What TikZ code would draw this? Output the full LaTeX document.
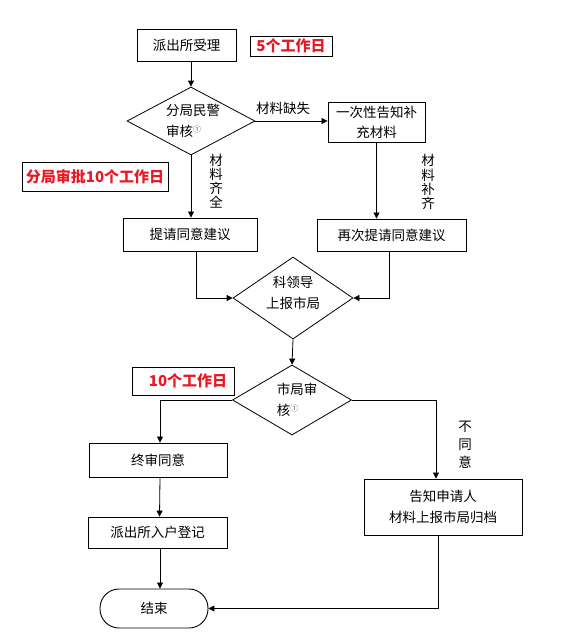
\documentclass[tikz,border=0pt]{standalone}
\usepackage{fontspec}
\setmainfont{Noto Sans CJK SC}
\usetikzlibrary{shapes.geometric,arrows.meta}
\definecolor{rd}{RGB}{232,24,36}
\newcommand{\circone}{\raisebox{4.5pt}{\fontsize{8}{8}\selectfont\color{black!65}①}}
\begin{document}
\begin{tikzpicture}[x=1pt,y=-1pt,
  font=\fontsize{13.5}{21}\selectfont,
  box/.style={draw, line width=0.9pt, inner sep=0pt, align=center},
  dia/.style={draw, diamond, line width=0.8pt, inner sep=0pt},
  redbox/.style={draw, line width=0.9pt, inner sep=0pt, text=rd, font=\fontsize{15}{18}\selectfont\bfseries},
  arr/.style={-{Triangle[length=6pt,width=6pt]}, line width=0.8pt},
  lab/.style={inner sep=0pt},
  vlab/.style={inner sep=0pt, align=center, font=\fontsize{13.5}{14.2}\selectfont}]
\useasboundingbox (0,0) rectangle (569,635);
% nodes
\node[box, minimum width=99, minimum height=32] (b1) at (186.5,45) {派出所受理};
\node[redbox, minimum width=82, minimum height=20] (r1) at (291,46) {5个工作日};
\node[dia, minimum width=128, minimum height=68] (d1) at (191,121) {};
\node[lab, align=left] (t1) at (193,121) {分局民警\\审核\circone};
\node[box, minimum width=97, minimum height=40, font=\fontsize{13.5}{20}\selectfont] (b2) at (376.5,122) {一次性告知补\\充材料};
\node[redbox, minimum width=146, minimum height=29] (r2) at (95,176.5) {分局审批10个工作日};
\node[box, minimum width=134, minimum height=33] (b3) at (190,234.5) {提请同意建议};
\node[box, minimum width=149, minimum height=32] (b4) at (391.5,235) {再次提请同意建议};
\node[dia, minimum width=120, minimum height=82] (d2) at (293,298) {};
\node[lab, align=center] (t2) at (293,293) {科领导\\上报市局};
\node[redbox, minimum width=102, minimum height=28] (r3) at (183,381) {\hspace*{10pt}10个工作日};
\node[dia, minimum width=119, minimum height=70] (d3) at (292,400) {};
\node[lab, align=left] (t3) at (297,400) {市局审\\核\circone};
\node[box, minimum width=138, minimum height=34] (b5) at (158,460) {终审同意};
\node[box, minimum width=139, minimum height=31] (b6) at (157.5,532.5) {派出所入户登记};
\node[box, minimum width=158, minimum height=56] (b7) at (443,507) {告知申请人\\材料上报市局归档};
\node[box, rounded corners=19pt, minimum width=108, minimum height=39] (e) at (154,608.5) {结束};
% labels
\node[lab] (l1) at (283,108) {材料缺失};
\node[vlab] (l2) at (216,181) {材\\料\\齐\\全};
\node[vlab] (l3) at (428,182) {材\\料\\补\\齐};
\node[vlab, font=\fontsize{13.5}{18}\selectfont] (l4) at (465,445) {不\\同\\意};
% connectors
\draw[arr] (d1.north |- b1.south) -- (d1.north);
\draw[arr] (d1.east) -- (d1.east -| b2.west);
\draw[arr] (d1.south) -- (d1.south |- b3.north);
\draw[arr] (b2.south) -- (b2.south |- b4.north);
\draw[arr] ([xshift=6pt]b3.south) |- (d2.west);
\draw[arr] ([xshift=-2.5pt]b4.south) |- (d2.east);
\draw[arr] (d2.south) -- (d3.north);
\draw[arr] (d3.west) -| ([xshift=2pt]b5.north);
\draw[arr] ([xshift=2pt]b5.south) -- ([xshift=2pt]b6.north);
\draw[arr] ([xshift=2.5pt]b6.south) -- ([xshift=2.5pt]b6.south |- e.north);
\draw[arr] (d3.east) -| ([xshift=-7pt]b7.north);
\draw[arr] ([xshift=-5pt]b7.south) |- (e.east);
\end{tikzpicture}
\end{document}
